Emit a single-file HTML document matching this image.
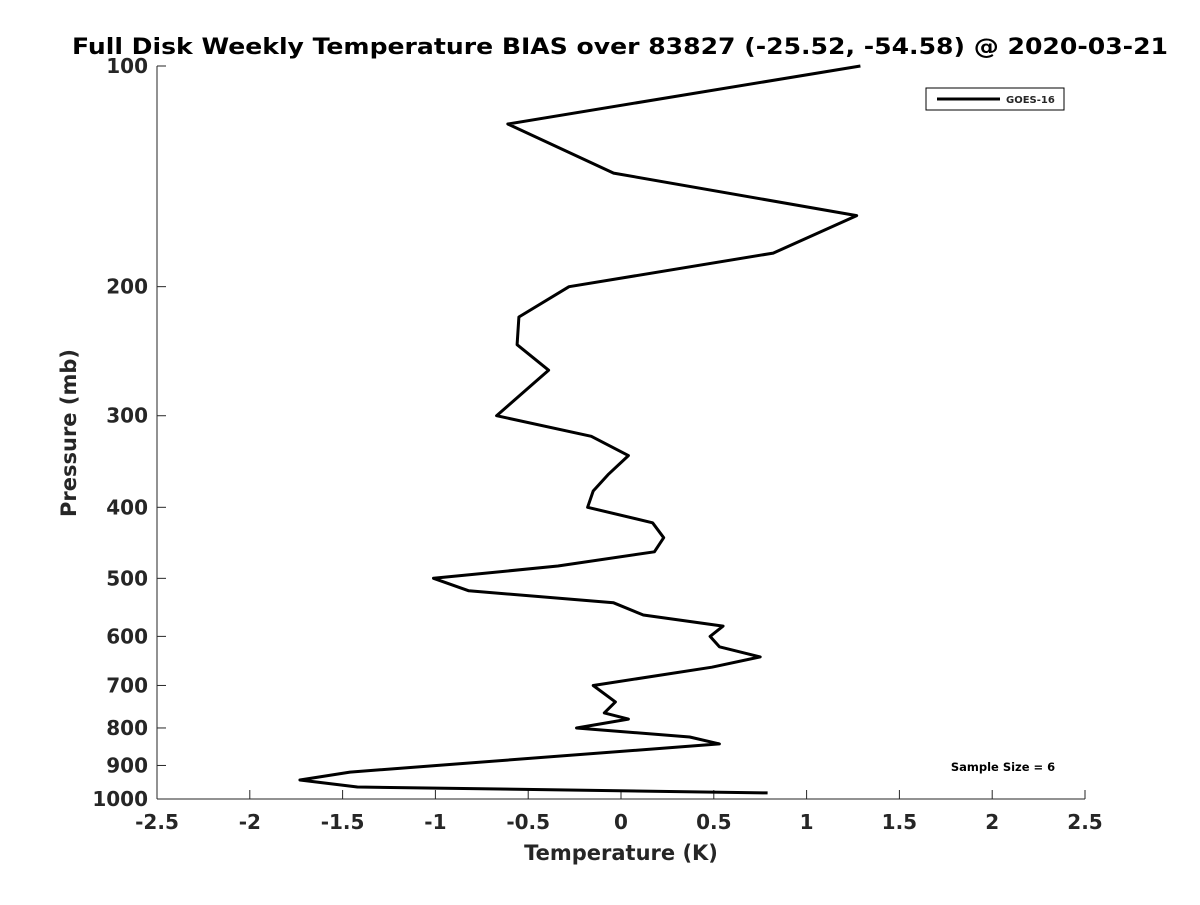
<!DOCTYPE html>
<html><head><meta charset="utf-8"><style>
body{margin:0;background:#fff;}
svg text{font-family:"DejaVu Sans","Liberation Sans",sans-serif;font-weight:bold;fill:#262626;}
</style></head><body>
<svg id="c" width="1200" height="900">
<text x="72" y="54" font-size="22" textLength="1096" lengthAdjust="spacingAndGlyphs" style="fill:#000">Full Disk Weekly Temperature BIAS over 83827 (-25.52, -54.58) @ 2020-03-21</text>
<g id="axes"></g>
<path id="line" fill="none" stroke="#000" stroke-width="3" stroke-linejoin="round"/>
<g>
<rect x="926" y="88" width="138" height="22" fill="#fff" stroke="#000" stroke-width="1"/>
<line x1="937" y1="99" x2="1000" y2="99" stroke="#000" stroke-width="3"/>
<text x="1006" y="103" font-size="10">GOES-16</text>
</g>
<text x="1003" y="771" font-size="11.5" text-anchor="middle" style="fill:#000">Sample Size = 6</text>
<text x="621" y="860" font-size="21" text-anchor="middle">Temperature (K)</text>
<text transform="translate(76,433) rotate(-90)" font-size="21" text-anchor="middle">Pressure (mb)</text>
</svg>
<script>
const xTicks=[-2.5,-2,-1.5,-1,-0.5,0,0.5,1,1.5,2,2.5];
const yTicks=[100,200,300,400,500,600,700,800,900,1000];
const pressure=[100,120,140,160,180,200,220,240,260,300,320,340,361,380,400,420,440,460,481,500,520,540,561,581,600,620,640,661,700,737,763,778,800,823,841,919,942,963,981];
const bias=[1.29,-0.61,-0.04,1.27,0.82,-0.28,-0.55,-0.56,-0.39,-0.67,-0.16,0.04,-0.07,-0.15,-0.18,0.17,0.23,0.18,-0.34,-1.01,-0.82,-0.04,0.12,0.55,0.48,0.53,0.75,0.49,-0.15,-0.03,-0.09,0.04,-0.24,0.37,0.53,-1.46,-1.73,-1.42,0.79];
const X0=157,X1=1085,Y0=66,Y1=799;
const xs=v=>X0+(v+2.5)/5*(X1-X0);
const ys=p=>Y0+(Math.log10(p)-2)*(Y1-Y0);
const NS="http://www.w3.org/2000/svg";
const ax=document.getElementById('axes');
function mk(t,a){const e=document.createElementNS(NS,t);for(const k in a)e.setAttribute(k,a[k]);ax.appendChild(e);return e;}
let e=mk('line',{x1:X0,y1:Y1,x2:X1,y2:Y1,stroke:'#262626'});


e=mk('line',{x1:X0,y1:Y0,x2:X0,y2:Y1,stroke:'#262626'});


xTicks.forEach(v=>{const x=xs(v);
mk('line',{x1:x,y1:Y1,x2:x,y2:Y1-9,stroke:'#262626'});
const t=mk('text',{x:x,y:Y1+30,'font-size':20,'text-anchor':'middle'});t.textContent=v;

});
yTicks.forEach(p=>{const y=ys(p);
mk('line',{x1:X0,y1:y,x2:X0+9,y2:y,stroke:'#262626'});
const t=mk('text',{x:X0-9,y:y+7,'font-size':20,'text-anchor':'end'});t.textContent=p;

});
document.getElementById('line').setAttribute('d',pressure.map((p,i)=>(i?'L':'M')+xs(bias[i]).toFixed(1)+','+ys(p).toFixed(1)).join(''));
</script>
</body></html>
